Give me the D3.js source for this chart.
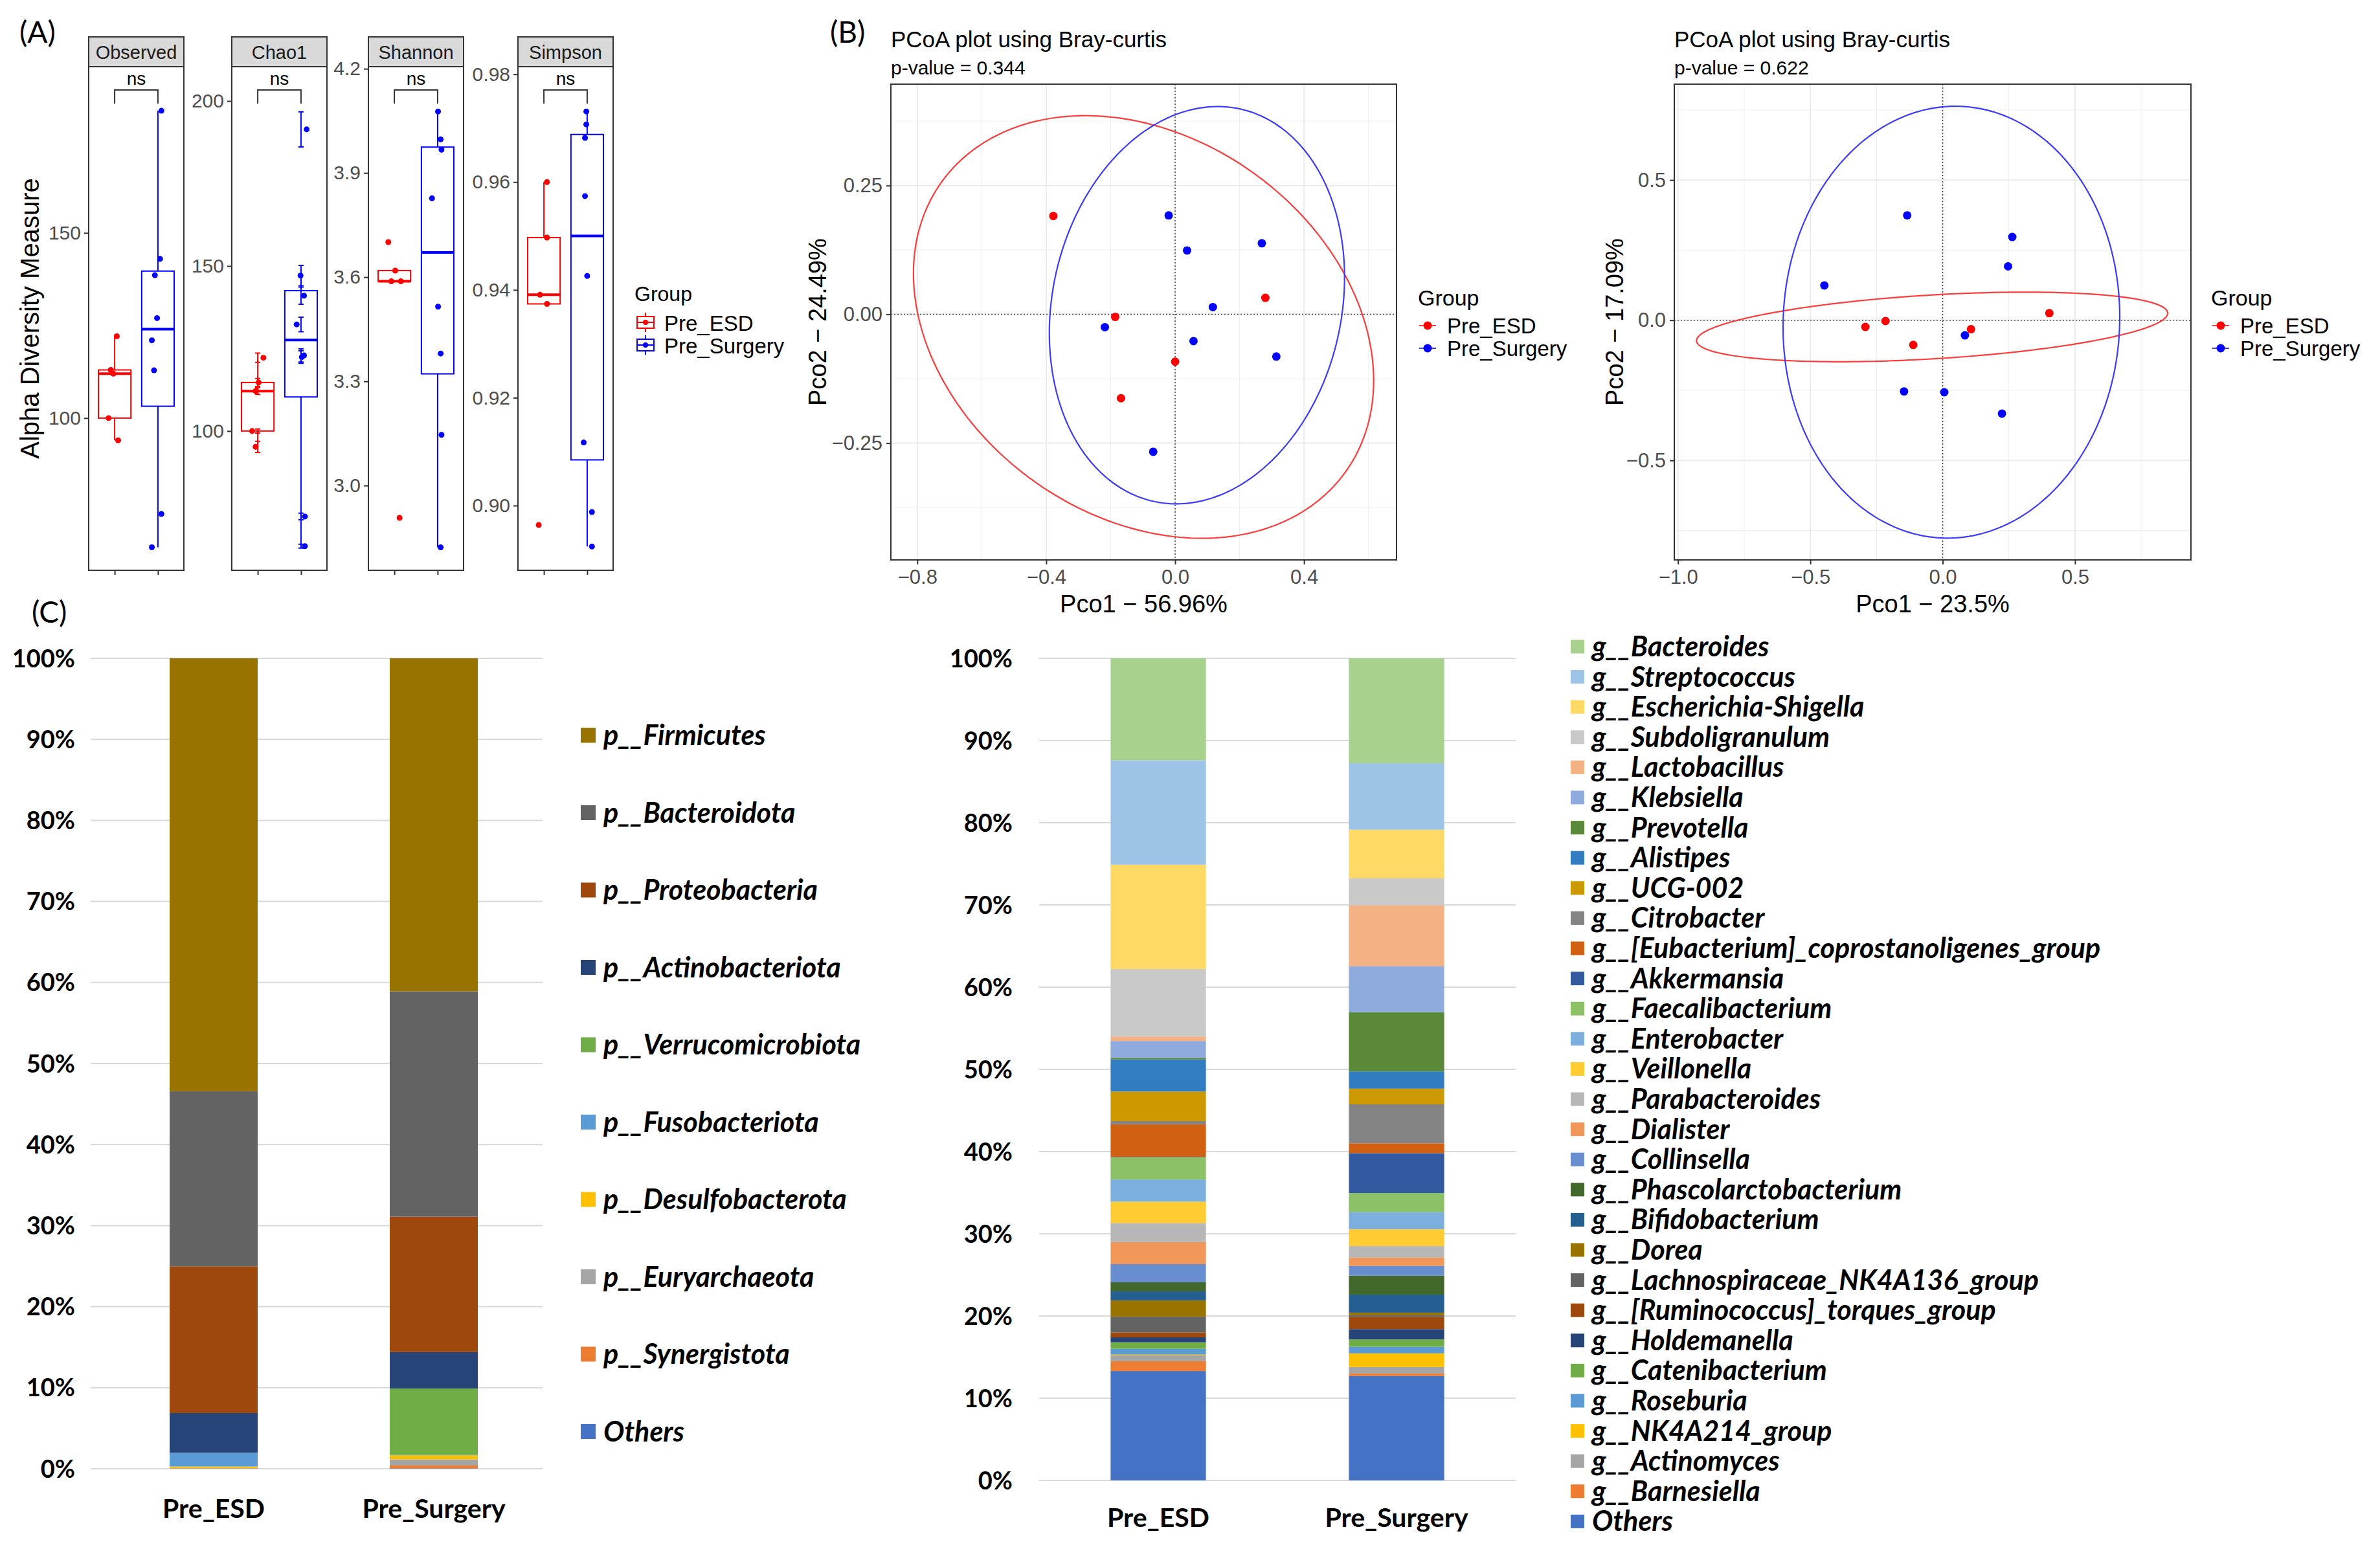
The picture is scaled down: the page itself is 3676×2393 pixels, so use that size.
<!DOCTYPE html>
<html lang="en">
<head>
  <meta charset="UTF-8">
  <title>Alpha diversity, PCoA and taxonomic composition</title>
  <script src="https://d3js.org/d3.v7.min.js"></script>
  <style>
    body { margin: 0; background: #fff; overflow: hidden; }
    .gg { font-family: "Liberation Sans", Arial, sans-serif; }
    .xl { font-family: Lato, "Open Sans", sans-serif; font-weight: bold; }
    .tag { font-family: Lato, "Open Sans", sans-serif; }
  </style>
</head>
<body>
  <svg id="figure" width="3676" height="2393"></svg>
  <script>
    const groups = ["Pre_ESD", "Pre_Surgery"];
    const groupColors = ["#ff0000", "#0000ff"];

    // (A) alpha diversity, one value per sample
    const observedESD = [122.1, 113.0, 112.0, 100.0, 94.0];
    const observedSurgery = [183.0, 143.0, 138.6, 127.0, 121.0, 112.9, 74.1, 65.1];
    const chao1ESD = [122.2, 114.7, 112.1, 100.0, 95.2];
    const chao1Surgery = [191.4, 147.1, 141.0, 132.3, 122.9, 122.4, 74.1, 65.1];
    const chao1SeESD = [1.4, 1.2, 1.0, 0.6, 1.7];
    const chao1SeSurgery = [5.3, 3.1, 2.6, 2.2, 2.0, 1.9, 1.0, 0.6];
    const shannonESD = [3.701, 3.619, 3.588, 3.588, 2.907];
    const shannonSurgery = [4.077, 3.997, 3.967, 3.827, 3.515, 3.380, 3.146, 2.822];
    const simpsonESD = [0.9600, 0.9497, 0.9391, 0.9374, 0.8964];
    const simpsonSurgery = [0.9731, 0.9707, 0.9682, 0.9574, 0.9426, 0.9117, 0.8988, 0.8924];
    // jitter of the dots (fraction of the group spacing)
    const observedJitter = [[0.05, -0.09, -0.03, -0.14, 0.08], [0.08, 0.05, -0.07, -0.02, -0.14, -0.09, 0.08, -0.14]];
    const chao1Jitter = [[0.13, 0.02, -0.05, -0.13, -0.05], [0.13, -0.01, 0.07, -0.10, 0.07, 0.02, 0.09, 0.09]];
    const shannonJitter = [[-0.14, 0.02, -0.07, 0.15, 0.12], [0.01, 0.07, 0.09, -0.13, 0.01, 0.07, 0.09, 0.07]];
    const simpsonJitter = [[0.07, 0.07, -0.09, 0.07, -0.12], [-0.02, -0.02, -0.05, -0.05, 0.0, -0.08, 0.11, 0.11]];
    const observedTicks = [100, 150];
    const chao1Ticks = [100, 150, 200];
    const shannonTicks = [3.0, 3.3, 3.6, 3.9, 4.2];
    const simpsonTicks = [0.90, 0.92, 0.94, 0.96, 0.98];

    // (B) PCoA coordinates [Pco1, Pco2]
    const pcoa1ESD = [[-0.378, 0.191], [-0.186, -0.005], [0.0, -0.092], [-0.168, -0.163], [0.28, 0.032]];
    const pcoa1Surgery = [[-0.02, 0.192], [0.037, 0.124], [0.269, 0.138], [0.117, 0.014], [-0.218, -0.025], [0.057, -0.052], [0.314, -0.082], [-0.068, -0.267]];
    const pcoa2ESD = [[-0.292, -0.024], [-0.216, -0.003], [-0.111, -0.088], [0.107, -0.032], [0.403, 0.025]];
    const pcoa2Surgery = [[-0.134, 0.374], [-0.447, 0.124], [0.263, 0.297], [0.247, 0.192], [0.084, -0.054], [-0.146, -0.254], [0.006, -0.257], [0.224, -0.333]];
    // 95% ellipses: centre, x half-width a, and b/d so that y = cy + b cos t + d sin t
    const pcoa1Ellipses = [{ cx: -0.098, cy: -0.0246, a: 0.714, b: -0.104, d: 0.397 }, { cx: 0.0677, cy: 0.0177, a: 0.458, b: 0.054, d: 0.382 }];
    const pcoa2Ellipses = [{ cx: -0.040, cy: -0.024, a: 0.890, b: 0.049, d: 0.114 }, { cx: 0.033, cy: -0.007, a: 0.636, b: 0.018, d: 0.770 }];
    const pcoa1XTicks = [-0.8, -0.4, 0.0, 0.4];
    const pcoa1YTicks = [-0.25, 0.0, 0.25];
    const pcoa1XMinor = [-0.6, -0.2, 0.2, 0.6];
    const pcoa1YMinor = [-0.375, -0.125, 0.125, 0.375];
    const pcoa2XTicks = [-1.0, -0.5, 0.0, 0.5];
    const pcoa2YTicks = [-0.5, 0.0, 0.5];
    const pcoa2XMinor = [-0.75, -0.25, 0.25, 0.75];
    const pcoa2YMinor = [-0.75, -0.25, 0.25, 0.75];

    // (C) relative abundance, legend order (top of the stack first)
    const phyla = ["p__Firmicutes", "p__Bacteroidota", "p__Proteobacteria", "p__Actinobacteriota", "p__Verrucomicrobiota",
      "p__Fusobacteriota", "p__Desulfobacterota", "p__Euryarchaeota", "p__Synergistota", "Others"];
    const phylumColors = ["#997300", "#636363", "#9E480E", "#264478", "#70AD47", "#5B9BD5", "#FFC000", "#A5A5A5", "#ED7D31", "#4472C4"];
    const phylumESD = [53.4, 21.6, 18.1, 4.9, 0.0, 1.7, 0.2, 0.03, 0.02, 0.02];
    const phylumSurgery = [41.1, 27.8, 16.7, 4.5, 8.2, 0.05, 0.5, 0.75, 0.35, 0.05];

    const genera = ["g__Bacteroides", "g__Streptococcus", "g__Escherichia-Shigella", "g__Subdoligranulum", "g__Lactobacillus",
      "g__Klebsiella", "g__Prevotella", "g__Alistipes", "g__UCG-002", "g__Citrobacter",
      "g__[Eubacterium]_coprostanoligenes_group", "g__Akkermansia", "g__Faecalibacterium", "g__Enterobacter", "g__Veillonella",
      "g__Parabacteroides", "g__Dialister", "g__Collinsella", "g__Phascolarctobacterium", "g__Bifidobacterium",
      "g__Dorea", "g__Lachnospiraceae_NK4A136_group", "g__[Ruminococcus]_torques_group", "g__Holdemanella", "g__Catenibacterium",
      "g__Roseburia", "g__NK4A214_group", "g__Actinomyces", "g__Barnesiella", "Others"];
    const genusColors = ["#A9D18E", "#9DC3E6", "#FFD966", "#C9C9C9", "#F4B183", "#8FAADC", "#5A8A39", "#327DC2", "#CC9A00", "#848484",
      "#D26012", "#335AA1", "#8CC168", "#7CAFDD", "#FFCD33", "#B7B7B7", "#F1975A", "#698ED0", "#43682B", "#255E91",
      "#997300", "#636363", "#9E480E", "#264478", "#70AD47", "#5B9BD5", "#FFC000", "#A5A5A5", "#ED7D31", "#4472C4"];
    const genusESD = [12.4, 12.7, 12.7, 8.2, 0.55, 2.05, 0.2, 3.9, 3.6, 0.4,
      3.95, 0.05, 2.7, 2.7, 2.6, 2.3, 2.7, 2.2, 1.1, 1.1,
      2.0, 1.9, 0.6, 0.6, 0.8, 0.7, 0.1, 0.7, 1.2, 13.3];
    const genusSurgery = [12.75, 8.1, 5.9, 3.3, 7.4, 5.6, 7.2, 2.1, 1.9, 4.75,
      1.2, 4.85, 2.3, 2.1, 2.05, 1.4, 1.0, 1.2, 2.3, 2.2,
      0.3, 0.2, 1.5, 1.25, 0.9, 0.8, 1.65, 0.8, 0.3, 12.7];
    const percentTicks = [0, 0.1, 0.2, 0.3, 0.4, 0.5, 0.6, 0.7, 0.8, 0.9, 1.0];

    const svg = d3.select("#figure");
    svg.append("rect").attr("width", 3676).attr("height", 2393).attr("fill", "#fff");

    function cleanAxis(ax, size, color) {
      ax.attr("font-family", null).attr("font-size", null);
      ax.select(".domain").remove();
      ax.selectAll(".tick line").attr("stroke", "#333").attr("stroke-width", 2);
      ax.selectAll(".tick text").attr("fill", color).style("font-size", size + "px");
    }

    // panel tags
    [["(A)", 30, 66], ["(B)", 1282, 66], ["(C)", 49, 962]].forEach(([t, x, y]) => {
      svg.append("text").attr("class", "tag").attr("x", x).attr("y", y).style("font-size", "46px").text(t);
    });

    // ---------- (A) alpha diversity ----------
    const alphaSets = [
      { name: "Observed", values: [observedESD, observedSurgery], jitter: observedJitter, ticks: observedTicks, fmt: d3.format("d"), domain: [58.9, 194.9] },
      { name: "Chao1", values: [chao1ESD, chao1Surgery], se: [chao1SeESD, chao1SeSurgery], jitter: chao1Jitter, ticks: chao1Ticks, fmt: d3.format("d"), domain: [57.8, 210.4] },
      { name: "Shannon", values: [shannonESD, shannonSurgery], jitter: shannonJitter, ticks: shannonTicks, fmt: d3.format(".1f"), domain: [2.756, 4.206] },
      { name: "Simpson", values: [simpsonESD, simpsonSurgery], jitter: simpsonJitter, ticks: simpsonTicks, fmt: d3.format(".2f"), domain: [0.888, 0.9814] }
    ];
    const alphaPanelX = [137, 358, 569, 800];
    const alphaPanelW = 147;
    const stripTop = 57, plotTop = 103, plotBottom = 881;

    function boxStats(vals) {
      const s = vals.slice().sort(d3.ascending);
      const q1 = d3.quantile(s, 0.25), med = d3.quantile(s, 0.5), q3 = d3.quantile(s, 0.75);
      const iqr = q3 - q1;
      return {
        q1, med, q3,
        lo: d3.min(s.filter(v => v >= q1 - 1.5 * iqr)),
        hi: d3.max(s.filter(v => v <= q3 + 1.5 * iqr))
      };
    }

    const gA = svg.append("g").attr("class", "gg");

    alphaSets.forEach((m, i) => {
      const x0 = alphaPanelX[i], x1 = x0 + alphaPanelW;
      const x = d3.scalePoint().domain(groups).range([x0, x1]).padding(0.6);
      const step = x.step();
      const y = d3.scaleLinear().domain(m.domain).range([plotBottom, plotTop]);
      const g = gA.append("g");

      g.append("rect").attr("x", x0).attr("y", plotTop).attr("width", alphaPanelW).attr("height", plotBottom - plotTop)
        .attr("fill", "#fff");

      // strip
      g.append("rect").attr("x", x0).attr("y", stripTop).attr("width", alphaPanelW).attr("height", plotTop - stripTop)
        .attr("fill", "#d9d9d9").attr("stroke", "#333").attr("stroke-width", 2);
      g.append("text").attr("x", (x0 + x1) / 2).attr("y", stripTop + 34).attr("text-anchor", "middle")
        .attr("fill", "#1a1a1a").style("font-size", "29px").text(m.name);

      g.append("g").attr("transform", `translate(${x0},0)`)
        .call(d3.axisLeft(y).tickValues(m.ticks).tickFormat(m.fmt).tickSize(7).tickPadding(5))
        .call(ax => cleanAxis(ax, 30, "#4d4d4d"));
      g.append("g").attr("transform", `translate(0,${plotBottom})`)
        .call(d3.axisBottom(x).tickSize(7).tickFormat(""))
        .call(ax => cleanAxis(ax, 30, "#4d4d4d"));

      groups.forEach((grp, k) => {
        const vals = m.values[k];
        const st = boxStats(vals);
        const cx = x(grp), bw = step * 0.75, col = groupColors[k];
        g.append("line").attr("x1", cx).attr("x2", cx).attr("y1", y(st.hi)).attr("y2", y(st.q3))
          .attr("stroke", col).attr("stroke-width", 2);
        g.append("line").attr("x1", cx).attr("x2", cx).attr("y1", y(st.q1)).attr("y2", y(st.lo))
          .attr("stroke", col).attr("stroke-width", 2);
        g.append("rect").attr("x", cx - bw / 2).attr("y", y(st.q3)).attr("width", bw).attr("height", y(st.q1) - y(st.q3))
          .attr("fill", "none").attr("stroke", col).attr("stroke-width", 2);
        g.append("line").attr("x1", cx - bw / 2).attr("x2", cx + bw / 2).attr("y1", y(st.med)).attr("y2", y(st.med))
          .attr("stroke", col).attr("stroke-width", 4);

        if (m.se) {
          vals.forEach((v, j) => {
            const se = m.se[k][j];
            g.append("path")
              .attr("d", `M${cx - 4},${y(v + se)}H${cx + 4}M${cx},${y(v + se)}V${y(v - se)}M${cx - 4},${y(v - se)}H${cx + 4}`)
              .attr("fill", "none").attr("stroke", col).attr("stroke-width", 2);
          });
        }

        g.selectAll(null).data(vals).join("circle")
          .attr("cx", (v, j) => cx + m.jitter[k][j] * step)
          .attr("cy", v => y(v))
          .attr("r", 4.5)
          .attr("fill", col);
      });

      // significance bracket
      const bx1 = x(groups[0]), bx2 = x(groups[1]);
      g.append("path").attr("d", `M${bx1},160V139H${bx2}V160`).attr("fill", "none").attr("stroke", "#333").attr("stroke-width", 2);
      g.append("text").attr("x", (bx1 + bx2) / 2).attr("y", 131).attr("text-anchor", "middle").style("font-size", "28px").text("ns");

      g.append("rect").attr("x", x0).attr("y", plotTop).attr("width", alphaPanelW).attr("height", plotBottom - plotTop)
        .attr("fill", "none").attr("stroke", "#333").attr("stroke-width", 2);
    });

    gA.append("text").attr("transform", "translate(60,492) rotate(-90)").attr("text-anchor", "middle")
      .style("font-size", "40px").text("Alpha Diversity Measure");

    // legend (A)
    gA.append("text").attr("x", 980).attr("y", 465).style("font-size", "32px").text("Group");
    groups.forEach((grp, k) => {
      const cy = 498 + k * 35, col = groupColors[k];
      const key = gA.append("g");
      key.append("path").attr("d", `M997,${cy - 15}V${cy - 9}M997,${cy + 9}V${cy + 15}M984,${cy}H1010`)
        .attr("stroke", col).attr("stroke-width", 2).attr("fill", "none");
      key.append("rect").attr("x", 984).attr("y", cy - 9).attr("width", 26).attr("height", 18)
        .attr("fill", "none").attr("stroke", col).attr("stroke-width", 2);
      key.append("circle").attr("cx", 997).attr("cy", cy).attr("r", 4).attr("fill", col);
      gA.append("text").attr("x", 1026).attr("y", cy + 13).style("font-size", "33px").text(grp);
    });

    // ---------- (B) PCoA ----------
    const pcoaPanels = [
      {
        left: 1376, right: 2157, xDomain: [-0.882, 0.687], yDomain: [-0.477, 0.447],
        xTicks: pcoa1XTicks, yTicks: pcoa1YTicks, xMinor: pcoa1XMinor, yMinor: pcoa1YMinor,
        xFormat: d3.format(".1f"), yFormat: d3.format(".2f"),
        points: [pcoa1ESD, pcoa1Surgery], ellipses: pcoa1Ellipses,
        pValue: "p-value = 0.344", xTitle: "Pco1 \u2212 56.96%", yTitle: "Pco2 \u2212 24.49%", yTitleX: 1276, legendX: 2190
      },
      {
        left: 2586, right: 3384, xDomain: [-1.014, 0.938], yDomain: [-0.855, 0.842],
        xTicks: pcoa2XTicks, yTicks: pcoa2YTicks, xMinor: pcoa2XMinor, yMinor: pcoa2YMinor,
        xFormat: d3.format(".1f"), yFormat: d3.format(".1f"),
        points: [pcoa2ESD, pcoa2Surgery], ellipses: pcoa2Ellipses,
        pValue: "p-value = 0.622", xTitle: "Pco1 \u2212 23.5%", yTitle: "Pco2 \u2212 17.09%", yTitleX: 2507, legendX: 3415
      }
    ];
    const pTop = 130, pBottom = 865;
    const ellipseColors = ["#ff3b3b", "#3b3bff"];

    pcoaPanels.forEach(p => {
      const g = svg.append("g").attr("class", "gg");
      const x = d3.scaleLinear().domain(p.xDomain).range([p.left, p.right]);
      const y = d3.scaleLinear().domain(p.yDomain).range([pBottom, pTop]);

      g.append("text").attr("x", p.left).attr("y", 73).style("font-size", "35px").text("PCoA plot using Bray-curtis");
      g.append("text").attr("x", p.left).attr("y", 115).style("font-size", "30px").text(p.pValue);

      g.append("rect").attr("x", p.left).attr("y", pTop).attr("width", p.right - p.left).attr("height", pBottom - pTop).attr("fill", "#fff");

      g.selectAll(null).data(p.xMinor).join("line")
        .attr("x1", d => x(d)).attr("x2", d => x(d)).attr("y1", pTop).attr("y2", pBottom)
        .attr("stroke", "#f2f2f2").attr("stroke-width", 1.2);
      g.selectAll(null).data(p.yMinor).join("line")
        .attr("y1", d => y(d)).attr("y2", d => y(d)).attr("x1", p.left).attr("x2", p.right)
        .attr("stroke", "#f2f2f2").attr("stroke-width", 1.2);
      g.selectAll(null).data(p.xTicks).join("line")
        .attr("x1", d => x(d)).attr("x2", d => x(d)).attr("y1", pTop).attr("y2", pBottom)
        .attr("stroke", "#ebebeb").attr("stroke-width", 2);
      g.selectAll(null).data(p.yTicks).join("line")
        .attr("y1", d => y(d)).attr("y2", d => y(d)).attr("x1", p.left).attr("x2", p.right)
        .attr("stroke", "#ebebeb").attr("stroke-width", 2);

      // zero reference lines
      g.append("line").attr("x1", x(0)).attr("x2", x(0)).attr("y1", pTop).attr("y2", pBottom)
        .attr("stroke", "#444").attr("stroke-width", 1.5).attr("stroke-dasharray", "2,3");
      g.append("line").attr("y1", y(0)).attr("y2", y(0)).attr("x1", p.left).attr("x2", p.right)
        .attr("stroke", "#444").attr("stroke-width", 1.5).attr("stroke-dasharray", "2,3");

      const angles = d3.range(0, 2 * Math.PI, Math.PI / 120);
      p.ellipses.forEach((e, k) => {
        const line = d3.line()
          .x(t => x(e.cx + e.a * Math.cos(t)))
          .y(t => y(e.cy + e.b * Math.cos(t) + e.d * Math.sin(t)))
          .curve(d3.curveLinearClosed);
        g.append("path").attr("d", line(angles)).attr("fill", "none")
          .attr("stroke", ellipseColors[k]).attr("stroke-width", 2.2);
      });

      p.points.forEach((pts, k) => {
        g.selectAll(null).data(pts).join("circle")
          .attr("cx", d => x(d[0])).attr("cy", d => y(d[1])).attr("r", 6.5).attr("fill", groupColors[k]);
      });

      g.append("rect").attr("x", p.left).attr("y", pTop).attr("width", p.right - p.left).attr("height", pBottom - pTop)
        .attr("fill", "none").attr("stroke", "#333").attr("stroke-width", 2);

      g.append("g").attr("transform", `translate(0,${pBottom})`)
        .call(d3.axisBottom(x).tickValues(p.xTicks).tickFormat(p.xFormat).tickSize(7).tickPadding(8))
        .call(ax => cleanAxis(ax, 31, "#4d4d4d"));
      g.append("g").attr("transform", `translate(${p.left},0)`)
        .call(d3.axisLeft(y).tickValues(p.yTicks).tickFormat(p.yFormat).tickSize(7).tickPadding(6))
        .call(ax => cleanAxis(ax, 31, "#4d4d4d"));

      g.append("text").attr("x", (p.left + p.right) / 2).attr("y", 946).attr("text-anchor", "middle")
        .style("font-size", "38px").text(p.xTitle);
      g.append("text").attr("transform", `translate(${p.yTitleX},${(pTop + pBottom) / 2}) rotate(-90)`)
        .attr("text-anchor", "middle").style("font-size", "38px").text(p.yTitle);

      // legend
      g.append("text").attr("x", p.legendX).attr("y", 472).style("font-size", "34px").text("Group");
      groups.forEach((grp, k) => {
        const cy = 503 + k * 35;
        g.append("line").attr("x1", p.legendX + 2).attr("x2", p.legendX + 28).attr("y1", cy).attr("y2", cy)
          .attr("stroke", ellipseColors[k]).attr("stroke-width", 2);
        g.append("circle").attr("cx", p.legendX + 15).attr("cy", cy).attr("r", 6.5).attr("fill", groupColors[k]);
        g.append("text").attr("x", p.legendX + 45).attr("y", cy + 12).style("font-size", "33px").text(grp);
      });
    });

    // ---------- (C) stacked composition ----------
    function stackedChart(cfg) {
      const g = svg.append("g").attr("class", "xl");
      const keysBottomUp = cfg.keys.slice().reverse();
      const rows = groups.map((grp, k) => {
        const row = { group: grp };
        cfg.keys.forEach((key, j) => { row[key] = cfg.values[k][j]; });
        return row;
      });
      const series = d3.stack().keys(keysBottomUp).offset(d3.stackOffsetExpand)(rows);
      const color = d3.scaleOrdinal().domain(cfg.keys).range(cfg.colors);

      const x = d3.scaleBand().domain(groups).range(cfg.bandRange).paddingInner(0.6).paddingOuter(0.3);
      const y = d3.scaleLinear().domain([0, 1]).range([cfg.bottom, cfg.top]);

      g.selectAll(null).data(percentTicks).join("line")
        .attr("x1", cfg.gridRange[0]).attr("x2", cfg.gridRange[1])
        .attr("y1", d => y(d)).attr("y2", d => y(d))
        .attr("stroke", "#d9d9d9").attr("stroke-width", 2);

      g.selectAll(null).data(series).join("g")
        .attr("fill", s => color(s.key))
        .selectAll("rect").data(s => s).join("rect")
        .attr("x", d => x(d.data.group))
        .attr("width", x.bandwidth())
        .attr("y", d => y(d[1]))
        .attr("height", d => y(d[0]) - y(d[1]));

      g.selectAll(null).data(percentTicks).join("text")
        .attr("x", cfg.tickX).attr("y", d => y(d)).attr("dy", "0.36em")
        .attr("text-anchor", "end").style("font-size", "38px")
        .text(d3.format(".0%"));

      g.selectAll(null).data(groups).join("text")
        .attr("x", d => x(d) + x.bandwidth() / 2).attr("y", cfg.labelY)
        .attr("text-anchor", "middle").style("font-size", "41px").text(d => d);

      const leg = g.append("g").style("font-style", "italic");
      cfg.keys.forEach((key, j) => {
        const cy = cfg.legendTop + j * cfg.legendStep;
        leg.append("rect").attr("x", cfg.legendX).attr("y", cy - cfg.swatch / 2)
          .attr("width", cfg.swatch).attr("height", cfg.swatch).attr("fill", color(key));
        leg.append("text").attr("x", cfg.legendX + cfg.swatch + 12).attr("y", cy + 15)
          .style("font-size", "43px").text(key);
      });
    }

    stackedChart({
      keys: phyla, colors: phylumColors, values: [phylumESD, phylumSurgery],
      bandRange: [160, 840], gridRange: [140, 838], bottom: 2269, top: 1017, tickX: 116, labelY: 2345,
      legendX: 897, legendTop: 1136, legendStep: 119.5, swatch: 23
    });
    stackedChart({
      keys: genera, colors: genusColors, values: [genusESD, genusSurgery],
      bandRange: [1605, 2341], gridRange: [1605, 2341], bottom: 2287, top: 1017, tickX: 1564, labelY: 2359,
      legendX: 2426, legendTop: 999, legendStep: 46.6, swatch: 21
    });
  </script>
</body>
</html>
